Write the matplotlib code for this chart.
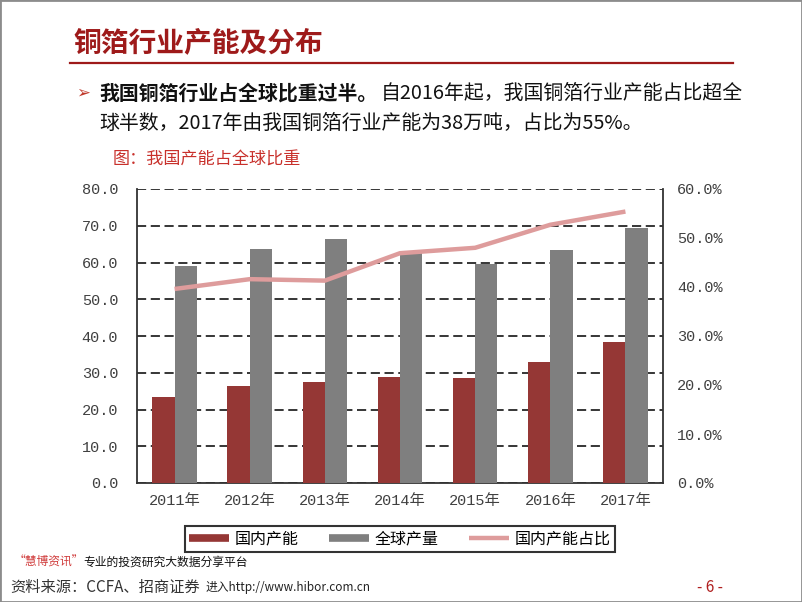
import numpy as np
import matplotlib
matplotlib.use("Agg")
import matplotlib.pyplot as plt
from matplotlib.lines import Line2D
from matplotlib.patches import Rectangle
from matplotlib.ticker import FuncFormatter, MultipleLocator

# data
years = ["2011年", "2012年", "2013年", "2014年", "2015年", "2016年", "2017年"]
domestic_cap = [23.4, 26.4, 27.5, 28.9, 28.6, 33.0, 38.3]     # 万吨
global_output = [59.1, 63.7, 66.3, 62.5, 59.6, 63.4, 69.3]    # 万吨
domestic_share = [39.6, 41.6, 41.3, 46.9, 48.0, 52.7, 55.4]   # %
series_names = ["国内产能", "全球产量", "国内产能占比"]

RED = "#953735"
GREY = "#7f7f7f"
PINK = "#de9c9c"
TITLE_RED = "#9e1a1a"
TICK = "#404040"

plt.rcParams['font.family'] = ['Noto Sans CJK SC', 'DejaVu Sans']
mono = ['Liberation Mono', 'Noto Sans CJK SC']

W, H = 802, 602
fig = plt.figure(figsize=(W / 100, H / 100), dpi=100)


def fx(px):
    return px / W


def fy(py):
    return 1 - py / H


# page header
fig.text(fx(73), fy(43), "铜箔行业产能及分布", fontsize=20, weight='bold',
         color=TITLE_RED, va='center', ha='left')
fig.add_artist(Line2D([fx(70), fx(733)], [fy(62.5), fy(62.5)], color=TITLE_RED, lw=1.6))
fig.text(fx(76), fy(93), "➢", family=['DejaVu Sans'], fontsize=12, color="#c0392b",
         va='center', ha='left')
fig.text(fx(99), fy(93), "我国铜箔行业占全球比重过半。", fontsize=14.3, weight='bold',
         color="#111111", va='center', ha='left')
fig.text(fx(381), fy(93), "自2016年起，我国铜箔行业产能占比超全", fontsize=14.3,
         color="#111111", va='center', ha='left')
fig.text(fx(99), fy(123), "球半数，2017年由我国铜箔行业产能为38万吨，占比为55%。", fontsize=14.3,
         color="#111111", va='center', ha='left')
fig.text(fx(113), fy(160), "图：我国产能占全球比重", fontsize=12.3, color="#c8302b",
         va='center', ha='left')

# chart
ax = fig.add_axes([fx(137), fy(483), fx(663) - fx(137), fy(189) - fy(483)])
x = np.arange(len(years))
w = 0.297
ax.bar(x - w / 2, domestic_cap, w, color=RED, zorder=3)
ax.bar(x + w / 2, global_output, w, color=GREY, zorder=3)
ax.set_xlim(-0.5, len(years) - 0.5)
ax.set_ylim(0, 80)
ax.yaxis.set_major_locator(MultipleLocator(10))
ax.yaxis.set_major_formatter(FuncFormatter(lambda v, p: f"{v:.1f}"))
ax.set_axisbelow(True)
ax.grid(axis='y', color='black', linestyle=(0, (6, 3)), linewidth=1.1)
ax.set_xticks(x)
ax.set_xticklabels(years)
ax.tick_params(length=0, colors=TICK, labelsize=11)
ax.tick_params(axis='y', pad=13.5)
ax.tick_params(axis='x', pad=8)
for side in ['left', 'bottom', 'right']:
    ax.spines[side].set_color('#333333')
    ax.spines[side].set_linewidth(1.3)
ax.spines['top'].set_visible(False)
for lbl in ax.get_xticklabels() + ax.get_yticklabels():
    lbl.set_family(mono)

ax2 = ax.twinx()
ax2.plot(x, domestic_share, color=PINK, lw=3.2, solid_capstyle='butt', zorder=4)
ax2.set_ylim(0, 60)
ax2.yaxis.set_major_locator(MultipleLocator(10))
ax2.yaxis.set_major_formatter(FuncFormatter(lambda v, p: f"{v:.1f}%"))
ax2.tick_params(length=0, colors=TICK, labelsize=11, pad=10)
for s in ax2.spines.values():
    s.set_visible(False)
for lbl in ax2.get_yticklabels():
    lbl.set_family(mono)

handles = [Line2D([], [], color=RED, lw=5.5, solid_capstyle='butt'),
           Line2D([], [], color=GREY, lw=5.5, solid_capstyle='butt'),
           Line2D([], [], color=PINK, lw=3.2, solid_capstyle='butt')]
leg = fig.legend(handles, series_names, loc='center', bbox_to_anchor=(fx(400), fy(539)),
                 ncol=3, frameon=True, fancybox=False, edgecolor='black',
                 handlelength=2.5, handletextpad=0.35, columnspacing=1.9,
                 borderpad=0.3, borderaxespad=0, prop={'size': 11.5})
leg.get_frame().set_linewidth(1.5)

# footer
fig.text(fx(14), fy(562), "“慧博资讯”", fontsize=8.5, color="#d03c3c", va='center', ha='left')
fig.text(fx(83), fy(562), "专业的投资研究大数据分享平台", fontsize=8.5, color="#111111",
         va='center', ha='left')
fig.text(fx(10), fy(587), "资料来源：CCFA、招商证券", fontsize=11, color="#333333",
         va='center', ha='left')
fig.text(fx(206), fy(588), "进入http://www.hibor.com.cn", fontsize=8.5, color="#222222",
         va='center', ha='left')
fig.text(fx(710), fy(587), "- 6 -", fontsize=11, color="#b02020", va='center', ha='center')

fig.add_artist(Rectangle((0, 0), 1, 1, transform=fig.transFigure, fill=False,
                         edgecolor='#8c8c8c', lw=2))

fig.savefig("out.png", dpi=100)
